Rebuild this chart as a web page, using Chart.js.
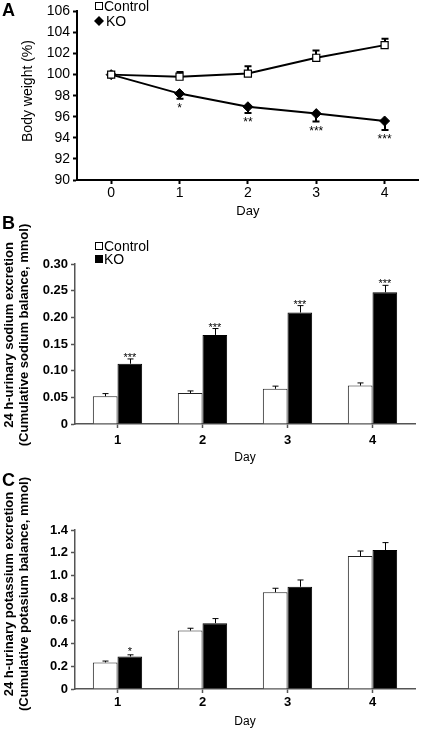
<!DOCTYPE html>
<html>
<head>
<meta charset="utf-8">
<script src="https://cdn.jsdelivr.net/npm/chart.js@4"></script>
<style>
  html, body { margin: 0; padding: 0; background: #fff; }
  canvas { position: absolute; left: 0; }
  #weightChart { top: 0; }
  #sodiumChart { top: 210px; }
  #potassiumChart { top: 470px; }
</style>
</head>
<body>
<canvas id="weightChart" width="425" height="222"></canvas>
<canvas id="sodiumChart" width="425" height="260"></canvas>
<canvas id="potassiumChart" width="425" height="259"></canvas>
<script>
const days = ['0', '1', '2', '3', '4'];
const weightControl = [100, 99.8, 100.1, 101.6, 102.8];
const weightControlErr = [0, 0.45, 0.7, 0.7, 0.6];
const weightKO = [100, 98.2, 96.95, 96.3, 95.6];
const weightKOErr = [0, 0.5, 0.6, 0.75, 0.85];
const weightStars = ['', '*', '**', '***', '***'];

const balanceDays = ['1', '2', '3', '4'];
const sodiumControl = [0.052, 0.058, 0.066, 0.072];
const sodiumControlErr = [0.005, 0.004, 0.005, 0.005];
const sodiumKO = [0.113, 0.167, 0.209, 0.247];
const sodiumKOErr = [0.009, 0.012, 0.013, 0.013];
const sodiumStars = ['***', '***', '***', '***'];

const potassiumControl = [0.234, 0.515, 0.852, 1.17];
const potassiumControlErr = [0.012, 0.02, 0.035, 0.045];
const potassiumKO = [0.286, 0.58, 0.9, 1.224];
const potassiumKOErr = [0.015, 0.04, 0.06, 0.065];
const potassiumStars = ['*', '', '', ''];

const FONT = "'Liberation Sans', Arial, sans-serif";
Chart.defaults.font.family = FONT;
Chart.defaults.color = '#000';

// error bars, stars, legend, panel letter and y titles
const decor = {
    id: 'decor',
    beforeDatasetsDraw(chart, args, opts) {
        if (opts.errorsUnder) drawErrors(chart, opts);
    },
    afterDatasetsDraw(chart, args, opts) {
        if (!opts.errorsUnder) drawErrors(chart, opts);
        drawStars(chart, opts);
    },
    afterDraw(chart, args, opts) {
        const ctx = chart.ctx;
        ctx.save();
        ctx.fillStyle = '#000';
        ctx.font = 'bold 18px ' + FONT;
        ctx.textAlign = 'left';
        ctx.textBaseline = 'middle';
        ctx.fillText(opts.letter.text, opts.letter.x, opts.letter.y);

        ctx.font = opts.titleFont;
        ctx.textAlign = 'center';
        opts.yTitle.forEach((t, i) => {
            ctx.save();
            ctx.translate(opts.yTitleX[i], opts.yTitleY);
            ctx.rotate(-Math.PI / 2);
            ctx.fillText(t, 0, 0);
            ctx.restore();
        });

        (opts.legend || []).forEach((item, i) => {
            const y = opts.legendY[i];
            const x = opts.legendX;
            ctx.lineWidth = 1;
            ctx.strokeStyle = '#000';
            if (item.marker === 'diamond') {
                ctx.beginPath();
                ctx.moveTo(x + 4, y - 5);
                ctx.lineTo(x + 9, y);
                ctx.lineTo(x + 4, y + 5);
                ctx.lineTo(x - 1, y);
                ctx.closePath();
                ctx.fill();
            } else {
                ctx.fillStyle = item.marker === 'open' ? '#fff' : '#000';
                ctx.fillRect(x + 0.5, y - 3.5, 7, 7);
                ctx.strokeRect(x + 0.5, y - 3.5, 7, 7);
                ctx.fillStyle = '#000';
            }
            ctx.font = opts.legendFont;
            ctx.textAlign = 'left';
            ctx.fillText(item.text, x + (item.marker === 'diamond' ? 11 : 9), y + 1);
        });
        ctx.restore();
    },
};

function drawErrors(chart, opts) {
    const ctx = chart.ctx;
    const yScale = chart.scales.y;
    ctx.save();
    ctx.strokeStyle = '#000';
    ctx.lineWidth = opts.errWidth;
    opts.errors.forEach((errs, di) => {
        const meta = chart.getDatasetMeta(di);
        const vals = chart.data.datasets[di].data;
        meta.data.forEach((el, j) => {
            if (!errs[j]) return;
            const y0 = yScale.getPixelForValue(vals[j]);
            const y1 = yScale.getPixelForValue(vals[j] + opts.errDir[di] * errs[j]);
            const x = Math.round(el.x) + (opts.errWidth % 2 ? 0.5 : 0);
            ctx.beginPath();
            ctx.moveTo(x, y0);
            ctx.lineTo(x, y1);
            ctx.moveTo(x - opts.capHalf, y1);
            ctx.lineTo(x + opts.capHalf, y1);
            ctx.stroke();
        });
    });
    ctx.restore();
}

function drawStars(chart, opts) {
    const ctx = chart.ctx;
    const yScale = chart.scales.y;
    const di = opts.starSet;
    const meta = chart.getDatasetMeta(di);
    const vals = chart.data.datasets[di].data;
    const errs = opts.errors[di];
    ctx.save();
    ctx.fillStyle = '#000';
    ctx.font = opts.starFont;
    ctx.textAlign = 'center';
    ctx.textBaseline = 'alphabetic';
    meta.data.forEach((el, j) => {
        if (!opts.stars[j]) return;
        const cap = yScale.getPixelForValue(vals[j] + opts.errDir[di] * errs[j]);
        ctx.fillText(opts.stars[j], el.x, cap + opts.starShift);
    });
    ctx.restore();
}

function axisX(height, tickSize, tickPad, titleSize, titlePad, bold, axisColor, axisWidth) {
    return {
        offset: true,
        grid: { display: true, drawOnChartArea: false, offset: false, tickLength: 4, color: axisColor, tickColor: axisColor, tickWidth: axisWidth },
        border: { display: true, color: axisColor, width: axisWidth },
        ticks: { color: '#000', padding: tickPad, font: { size: tickSize, weight: bold ? 'bold' : 'normal' } },
        title: { display: true, text: 'Day', color: '#000', font: { size: titleSize }, padding: { top: 0, bottom: titlePad } },
        afterFit: s => { s.height = height; },
    };
}

function axisY(width, min, max, step, tickSize, tickPad, bold, axisColor, axisWidth, fmt) {
    return {
        min: min,
        max: max,
        grid: { display: true, drawOnChartArea: false, tickLength: 4, color: axisColor, tickColor: axisColor, tickWidth: axisWidth },
        border: { display: true, color: axisColor, width: axisWidth },
        ticks: { stepSize: step, color: '#000', padding: tickPad, font: { size: tickSize, weight: bold ? 'bold' : 'normal' }, callback: fmt },
        afterFit: s => { s.width = width; },
    };
}

new Chart(document.getElementById('weightChart'), {
    type: 'line',
    data: {
        labels: days,
        datasets: [
            {
                label: 'Control', data: weightControl, borderColor: '#000', borderWidth: 2, tension: 0,
                pointStyle: 'rect', pointRadius: 5, pointBackgroundColor: '#fff', pointBorderColor: '#000', pointBorderWidth: 1.2,
            },
            {
                label: 'KO', data: weightKO, borderColor: '#000', borderWidth: 2, tension: 0,
                pointStyle: 'rectRot', pointRadius: 5, pointBackgroundColor: '#000', pointBorderColor: '#000', pointBorderWidth: 1,
            },
        ],
    },
    options: {
        responsive: false,
        animation: false,
        layout: { padding: { top: 5, right: 2, left: 0, bottom: 0 } },
        plugins: {
            legend: { display: false },
            tooltip: { enabled: false },
            decor: {
                errorsUnder: true,
                errors: [weightControlErr, weightKOErr],
                errDir: [1, -1],
                errWidth: 2,
                capHalf: 3.5,
                stars: weightStars,
                starSet: 1,
                starFont: '12px ' + FONT,
                starShift: 13,
                letter: { text: 'A', x: 2, y: 11 },
                yTitle: ['Body weight (%)'],
                yTitleX: [28],
                yTitleY: 91,
                titleFont: '14px ' + FONT,
                legend: [{ text: 'Control', marker: 'open' }, { text: 'KO', marker: 'diamond' }],
                legendX: 95,
                legendY: [6, 21],
                legendFont: '14px ' + FONT,
            },
        },
        scales: {
            x: axisX(42, 14, 1, 13, 3, false, '#000', 2),
            y: axisY(77, 90, 106, 2, 14, 3, false, '#000', 2),
        },
    },
    plugins: [decor],
});

const barOpts = (height, padTop, xHeight, xTickPad, xTitlePad, yMin, yMax, yStep, fmt, decorOpts) => ({
    responsive: false,
    animation: false,
    layout: { padding: { top: padTop, right: 10, left: 0, bottom: 0 } },
    plugins: { legend: { display: false }, tooltip: { enabled: false }, decor: decorOpts },
    scales: {
        x: axisX(xHeight, 13, xTickPad, 12, xTitlePad, true, '#555', 1.5),
        y: axisY(75, yMin, yMax, yStep, 13, 3, true, '#555', 1.5, fmt),
    },
});

const barSets = (control, ko) => [
    { label: 'Control', data: control, backgroundColor: '#fff', borderColor: '#222', borderWidth: 1, categoryPercentage: 0.58, barPercentage: 1 },
    { label: 'KO', data: ko, backgroundColor: '#000', borderColor: '#000', borderWidth: 1, categoryPercentage: 0.58, barPercentage: 1 },
];

new Chart(document.getElementById('sodiumChart'), {
    type: 'bar',
    data: { labels: balanceDays, datasets: barSets(sodiumControl, sodiumKO) },
    options: barOpts(260, 54, 46, 5, 5, 0, 0.3, 0.05, v => (v === 0 ? '0' : v.toFixed(2)), {
        errors: [sodiumControlErr, sodiumKOErr],
        errDir: [1, 1],
        errWidth: 1,
        capHalf: 3,
        stars: sodiumStars,
        starSet: 1,
        starFont: '11px ' + FONT,
        starShift: 2,
        letter: { text: 'B', x: 2, y: 14 },
        yTitle: ['24 h-urinary sodium excretion', '(Cumulative sodium balance, mmol)'],
        yTitleX: [9, 24],
        yTitleY: 125,
        titleFont: 'bold 13px ' + FONT,
        legend: [{ text: 'Control', marker: 'open' }, { text: 'KO', marker: 'filled' }],
        legendX: 95,
        legendY: [36, 49],
        legendFont: '14px ' + FONT,
    }),
    plugins: [decor],
});

new Chart(document.getElementById('potassiumChart'), {
    type: 'bar',
    data: { labels: balanceDays, datasets: barSets(potassiumControl, potassiumKO) },
    options: barOpts(259, 60, 40, 2, 0, 0, 1.4, 0.2, v => (v === 0 ? '0' : v.toFixed(1)), {
        errors: [potassiumControlErr, potassiumKOErr],
        errDir: [1, 1],
        errWidth: 1,
        capHalf: 3,
        stars: potassiumStars,
        starSet: 1,
        starFont: '11px ' + FONT,
        starShift: 0,
        letter: { text: 'C', x: 2, y: 11 },
        yTitle: ['24 h-urinary potassium excretion', '(Cumulative potasium balance, mmol)'],
        yTitleX: [9, 24],
        yTitleY: 124,
        titleFont: 'bold 13px ' + FONT,
        legend: [],
        legendX: 95,
        legendY: [],
        legendFont: '14px ' + FONT,
    }),
    plugins: [decor],
});
</script>
</body>
</html>
